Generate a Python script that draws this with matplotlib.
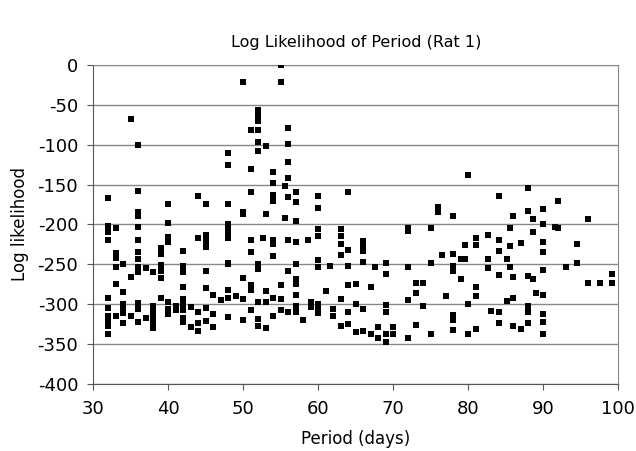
import matplotlib
matplotlib.use("Agg")
import matplotlib.pyplot as plt
import matplotlib.ticker as mticker

plt.rcParams["axes.unicode_minus"] = False

# period (days) and log likelihood
period = [
    32, 32, 32, 32, 32, 32, 32, 32, 32, 32,
    33, 33, 33, 33, 33, 33,
    34, 34, 34, 34, 34, 34,
    35, 35, 35,
    36, 36, 36, 36, 36, 36, 36, 36, 36, 36, 36, 36, 36,
    37, 37,
    38, 38, 38, 38, 38, 38,
    39, 39, 39, 39, 39, 39,
    40, 40, 40, 40, 40, 40, 40,
    41, 41,
    42, 42, 42, 42, 42, 42, 42, 42, 42,
    43, 43,
    44, 44, 44, 44, 44,
    45, 45, 45, 45, 45, 45, 45, 45,
    46, 46, 46, 47,
    48, 48, 48, 48, 48, 48, 48, 48, 48, 48, 48, 48,
    49,
    50, 50, 50, 50, 50, 50,
    51, 51, 51, 51, 51, 51, 51, 51,
    52, 52, 52, 52, 52, 52, 52, 52, 52, 52, 52,
    53, 53, 53, 53, 53, 52.6,
    54, 54, 54, 54, 54, 54, 54, 54, 54,
    55, 55, 55, 55, 55, 55.6, 55.6,
    56, 56, 56, 56, 56, 56, 56, 56,
    57, 57, 57, 57, 57, 57, 57, 57, 57, 57,
    58, 58.6,
    59, 59,
    60, 60, 60, 60, 60, 60, 60, 60, 60,
    61, 61.5,
    62, 62,
    63, 63, 63, 63, 63, 63,
    64, 64, 64, 64, 64, 64,
    65, 65, 65,
    66, 66, 66, 66, 66, 66,
    67, 67, 67.6,
    68, 68,
    69, 69, 69, 69, 69, 69,
    70, 70,
    72, 72, 72, 72, 72,
    73, 73, 73,
    74, 74,
    75, 75, 75,
    76, 76, 76.5,
    77,
    78, 78, 78, 78, 78, 78, 78,
    79, 79, 79.6, 79.6,
    80, 80, 80,
    81, 81, 81, 81, 81,
    82.6, 82.6, 82.6, 83,
    84.1, 84.1, 84.1, 84.1, 84.1, 84.1,
    85.1, 85.1, 85.6, 85.6, 85.6,
    86, 86, 86, 86,
    87.1, 87.1,
    88, 88, 88, 88, 88, 88,
    88.6, 88.6, 88.6, 89.1,
    90, 90, 90, 90, 90, 90, 90, 90, 90,
    91.6, 92, 92,
    93.1, 94.5, 94.5,
    96, 96, 97.6, 99.2, 99.2,
]
loglik = [
    -167, -202, -209, -220, -292, -305, -315, -322, -328, -337,
    -204, -236, -242, -254, -275, -315,
    -250, -285, -300, -305, -311, -324,
    -68, -266, -315,
    -100, -158, -185, -190, -203, -219, -235, -244, -253, -260, -299, -306, -322,
    -255, -317,
    -260, -303, -310, -318, -324, -330,
    -230, -237, -251, -259, -267, -292,
    -174, -198, -216, -222, -298, -306, -313,
    -302, -307,
    -234, -252, -260, -279, -293, -301, -308, -317, -322,
    -304, -329,
    -165, -217, -310, -324, -334,
    -174, -213, -221, -229, -258, -280, -305, -321,
    -289, -312, -329, -295,
    -111, -125, -175, -200, -204, -212, -217, -248, -282, -292, -316, -250,
    -290,
    -21, -185, -267, -294, -320, -187,
    -82, -131, -160, -219, -235, -276, -282, -308,
    -57, -63, -70, -82, -97, -108, -256, -298, -319, -327, -250,
    -187, -283, -298, -102, -330, -217,
    -134, -148, -163, -171, -220, -224, -292, -315, -240,
    0, -21, -276, -294, -307, -152, -192,
    -79, -99, -122, -142, -166, -219, -259, -310,
    -159, -172, -196, -222, -250, -268, -275, -288, -302, -310,
    -320, -219,
    -298, -304,
    -164, -180, -206, -215, -245, -254, -300, -304, -311,
    -283, -252,
    -306, -315,
    -206, -215, -224, -238, -293, -327,
    -160, -252, -310, -325, -232, -276,
    -275, -335, -300,
    -221, -228, -234, -247, -306, -334,
    -278, -337, -254,
    -329, -342,
    -249, -262, -301, -310, -338, -348,
    -329, -337,
    -205, -208, -254, -295, -342,
    -274, -286, -326,
    -274, -302,
    -205, -249, -337,
    -178, -184, -239,
    -290,
    -190, -237, -252, -258, -314, -332, -320,
    -243, -269, -226, -244,
    -138, -338, -300,
    -217, -226, -278, -331, -290,
    -213, -243, -255, -309,
    -165, -220, -233, -264, -310, -324,
    -243, -296, -205, -227, -253,
    -189, -266, -292, -327,
    -223, -331,
    -154, -183, -265, -302, -310, -324,
    -193, -210, -269, -286,
    -181, -200, -222, -235, -257, -289, -312, -322, -337,
    -203, -171, -204,
    -253, -225, -249,
    -193, -274, -273, -262, -274,
]

fig = plt.figure(figsize=(6.36, 4.51), dpi=100)
ax = fig.add_axes([0.147, 0.149, 0.825, 0.707])

ax.scatter(period, loglik, marker="s", s=20, color="black", linewidths=0, zorder=3)

ax.set_xlim(30, 100)
ax.set_ylim(-400, 0)
ax.xaxis.set_major_locator(mticker.MultipleLocator(10))
ax.yaxis.set_major_locator(mticker.MultipleLocator(50))
ax.grid(axis="y", color="#888888", linewidth=1)
ax.set_axisbelow(True)

for side in ["top", "right"]:
    ax.spines[side].set_color("#888888")
for side in ["left", "bottom"]:
    ax.spines[side].set_color("#555555")
ax.tick_params(direction="out", length=4, color="#555555", labelsize=13)
ax.tick_params(axis="x", pad=8)
ax.tick_params(axis="y", pad=7)

ax.set_title("Log Likelihood of Period (Rat 1)", fontsize=11.5, pad=13)
ax.set_xlabel("Period (days)", fontsize=12, labelpad=8)
ax.set_ylabel("Log likelihood", fontsize=12, labelpad=6)

fig.savefig("out.png", dpi=100)
